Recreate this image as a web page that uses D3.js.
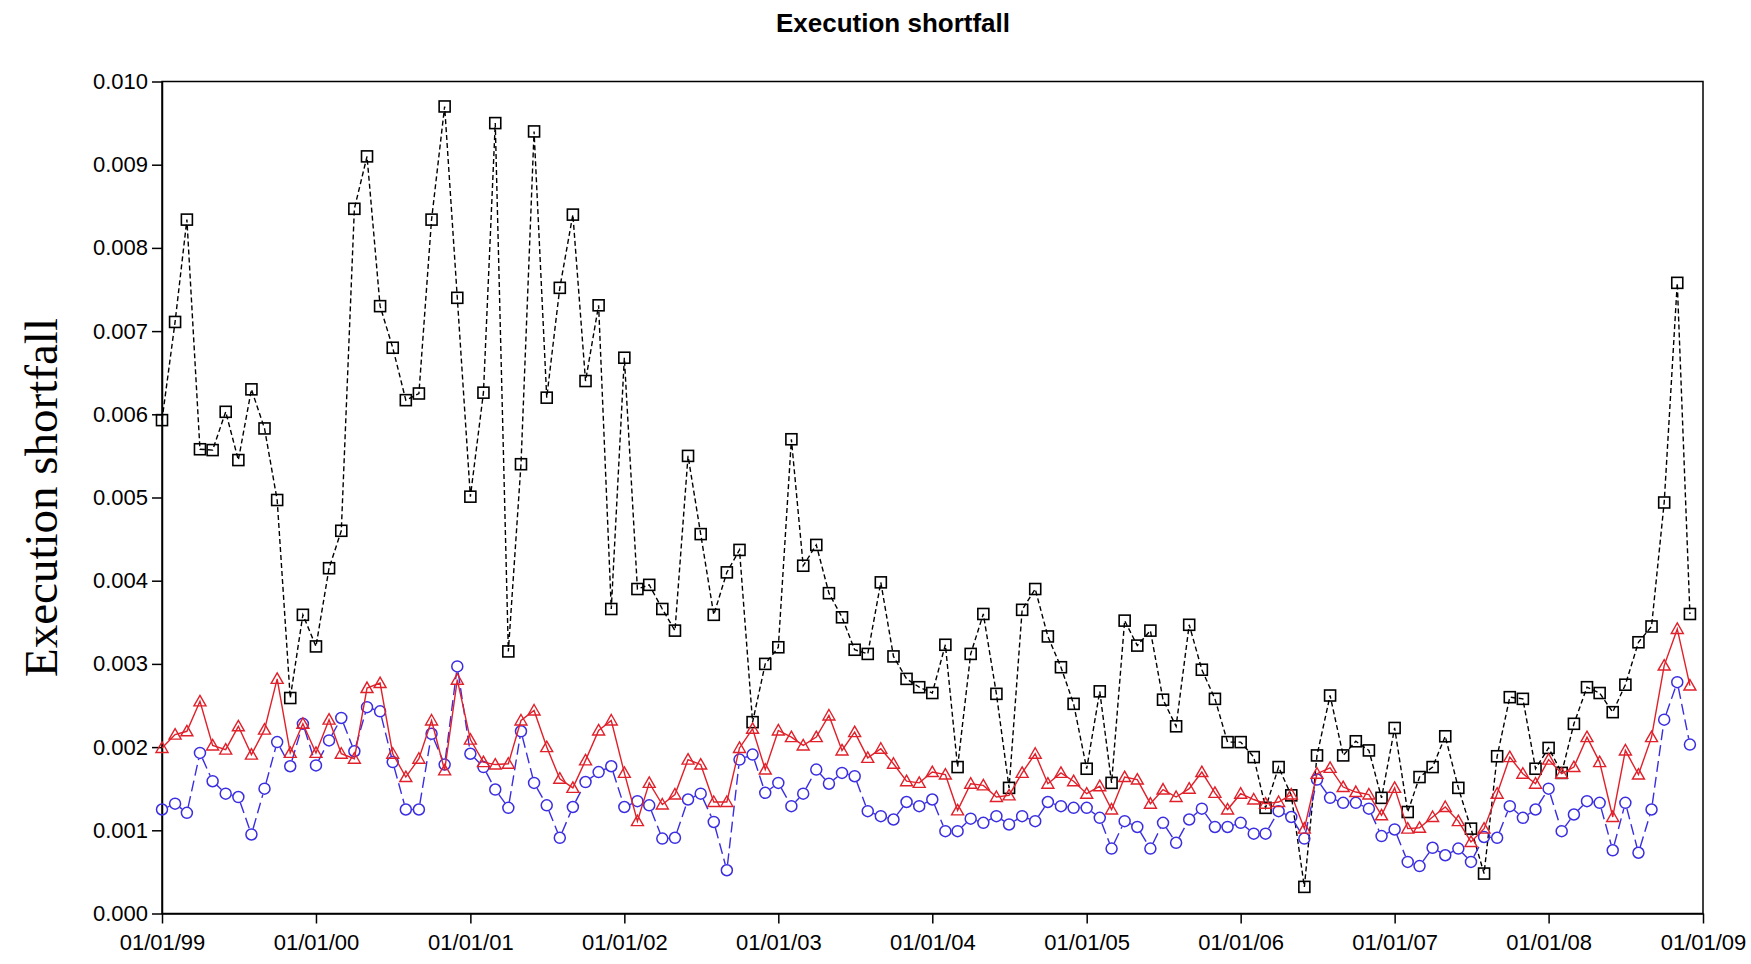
<!DOCTYPE html>
<html lang="en">
<head>
<meta charset="UTF-8">
<title>Execution shortfall</title>
<script src="https://cdn.jsdelivr.net/npm/d3@7"></script>
<style>
  body { margin: 0; background: #fff; }
  svg { display: block; background: #fff; }
  .tick text { font-family: "Liberation Sans", Arial, sans-serif; font-size: 22px; fill: #000; }
</style>
</head>
<body>
<script>
'use strict';

// monthly values, Jan 1999 .. Dec 2008
var blackVals = [
  0.00593, 0.00711, 0.00834, 0.00558, 0.00557, 0.00603, 0.00545, 0.00630, 0.00583, 0.00497, 0.00259, 0.00359,
  0.00321, 0.00415, 0.00460, 0.00847, 0.00910, 0.00730, 0.00680, 0.00617, 0.00625, 0.00834, 0.00970, 0.00740,
  0.00501, 0.00626, 0.00950, 0.00315, 0.00540, 0.00940, 0.00620, 0.00752, 0.00840, 0.00640, 0.00731, 0.00366,
  0.00668, 0.00390, 0.00395, 0.00366, 0.00340, 0.00550, 0.00456, 0.00359, 0.00410, 0.00437, 0.00230, 0.00300,
  0.00320, 0.00570, 0.00418, 0.00443, 0.00385, 0.00356, 0.00317, 0.00312, 0.00398, 0.00309, 0.00282, 0.00272,
  0.00265, 0.00323, 0.00176, 0.00312, 0.00360, 0.00264, 0.00151, 0.00365, 0.00390, 0.00333, 0.00296, 0.00252,
  0.00174, 0.00267, 0.00157, 0.00352, 0.00322, 0.00340, 0.00257, 0.00225, 0.00347, 0.00293, 0.00258, 0.00206,
  0.00206, 0.00188, 0.00127, 0.00176, 0.00142, 0.00032, 0.00190, 0.00262, 0.00190, 0.00207, 0.00196, 0.00139,
  0.00223, 0.00122, 0.00164, 0.00176, 0.00213, 0.00151, 0.00102, 0.00048, 0.00189, 0.00260, 0.00258, 0.00174,
  0.00199, 0.00169, 0.00228, 0.00272, 0.00265, 0.00242, 0.00275, 0.00326, 0.00345, 0.00494, 0.00758, 0.00360
];
var redVals = [
  0.00199, 0.00215, 0.00219, 0.00255, 0.00202, 0.00197, 0.00225, 0.00191, 0.00221, 0.00282, 0.00193, 0.00228,
  0.00193, 0.00233, 0.00192, 0.00186, 0.00271, 0.00277, 0.00192, 0.00164, 0.00186, 0.00232, 0.00172, 0.00281,
  0.00209, 0.00182, 0.00179, 0.00180, 0.00232, 0.00244, 0.00200, 0.00162, 0.00151, 0.00184, 0.00220, 0.00232,
  0.00169, 0.00111, 0.00157, 0.00131, 0.00143, 0.00185, 0.00179, 0.00134, 0.00134, 0.00199, 0.00222, 0.00173,
  0.00220, 0.00212, 0.00202, 0.00212, 0.00238, 0.00196, 0.00218, 0.00187, 0.00198, 0.00180, 0.00159, 0.00157,
  0.00170, 0.00167, 0.00124, 0.00156, 0.00154, 0.00140, 0.00142, 0.00169, 0.00192, 0.00156, 0.00169, 0.00159,
  0.00144, 0.00153, 0.00125, 0.00164, 0.00161, 0.00132, 0.00149, 0.00140, 0.00150, 0.00170, 0.00145, 0.00125,
  0.00144, 0.00137, 0.00132, 0.00134, 0.00143, 0.00102, 0.00168, 0.00175, 0.00152, 0.00146, 0.00143, 0.00118,
  0.00151, 0.00102, 0.00103, 0.00116, 0.00128, 0.00111, 0.00086, 0.00102, 0.00144, 0.00188, 0.00168, 0.00156,
  0.00185, 0.00168, 0.00176, 0.00212, 0.00182, 0.00116, 0.00196, 0.00167, 0.00212, 0.00298, 0.00342, 0.00274
];
var blueVals = [
  0.00125, 0.00132, 0.00121, 0.00193, 0.00159, 0.00144, 0.00140, 0.00095, 0.00150, 0.00206, 0.00177, 0.00228,
  0.00178, 0.00208, 0.00235, 0.00195, 0.00248, 0.00243, 0.00182, 0.00125, 0.00125, 0.00216, 0.00179, 0.00297,
  0.00192, 0.00176, 0.00149, 0.00127, 0.00219, 0.00157, 0.00130, 0.00091, 0.00128, 0.00158, 0.00170, 0.00177,
  0.00128, 0.00135, 0.00130, 0.00090, 0.00091, 0.00137, 0.00144, 0.00110, 0.00052, 0.00185, 0.00191, 0.00145,
  0.00157, 0.00129, 0.00144, 0.00173, 0.00156, 0.00169, 0.00165, 0.00123, 0.00117, 0.00113, 0.00134, 0.00129,
  0.00137, 0.00099, 0.00099, 0.00114, 0.00109, 0.00117, 0.00107, 0.00117, 0.00111, 0.00134, 0.00129, 0.00127,
  0.00127, 0.00115, 0.00078, 0.00111, 0.00104, 0.00078, 0.00109, 0.00085, 0.00113, 0.00126, 0.00104, 0.00104,
  0.00109, 0.00096, 0.00096, 0.00123, 0.00116, 0.00090, 0.00161, 0.00139, 0.00133, 0.00133, 0.00126, 0.00093,
  0.00101, 0.00062, 0.00057, 0.00079, 0.00070, 0.00078, 0.00062, 0.00092, 0.00091, 0.00129, 0.00115, 0.00125,
  0.00150, 0.00099, 0.00119, 0.00135, 0.00133, 0.00076, 0.00133, 0.00073, 0.00125, 0.00233, 0.00278, 0.00203
];
var yTicks = [0, 0.001, 0.002, 0.003, 0.004, 0.005, 0.006, 0.007, 0.008, 0.009, 0.010];
var xTickYears = [1999, 2000, 2001, 2002, 2003, 2004, 2005, 2006, 2007, 2008, 2009];
var title = 'Execution shortfall';
var yTitle = 'Execution shortfall';

var W = 1751, H = 964;
var m = {left: 162, right: 48, top: 81.5, bottom: 50.5};
var iw = W - m.left - m.right, ih = H - m.top - m.bottom;

var svg = d3.select('body').append('svg')
  .attr('width', W)
  .attr('height', H);

var g = svg.append('g').attr('transform', 'translate(' + m.left + ',' + m.top + ')');

var x = d3.scaleUtc()
  .domain([new Date(Date.UTC(1999, 0, 1)), new Date(Date.UTC(2009, 0, 1))])
  .range([0, iw]);
var y = d3.scaleLinear().domain([0, 0.010]).range([ih, 0]);

function toPoints(vals) {
  return vals.map(function(v, i) {
    return {date: new Date(Date.UTC(1999, i, 1)), v: v};
  });
}
var black = toPoints(blackVals), red = toPoints(redVals), blue = toPoints(blueVals);

// axes
var yAxis = d3.axisLeft(y).tickValues(yTicks).tickFormat(d3.format('.3f')).tickSize(10).tickSizeOuter(0).tickPadding(4);
var xAxis = d3.axisBottom(x)
  .tickValues(xTickYears.map(function(yr) { return new Date(Date.UTC(yr, 0, 1)); }))
  .tickFormat(d3.utcFormat('%d/%m/%y'))
  .tickSize(10).tickSizeOuter(0).tickPadding(11);

g.append('g').call(yAxis)
  .call(function(s) { s.selectAll('line, path').attr('stroke', '#000').attr('stroke-width', 1.5); });
g.append('g').attr('transform', 'translate(0,' + ih + ')').call(xAxis)
  .call(function(s) { s.selectAll('line, path').attr('stroke', '#000').attr('stroke-width', 1.5); });

// frame
g.append('rect')
  .attr('x', 0).attr('y', 0).attr('width', iw).attr('height', ih)
  .attr('fill', 'none').attr('stroke', '#000').attr('stroke-width', 1.5);

var line = d3.line()
  .x(function(d) { return x(d.date); })
  .y(function(d) { return y(d.v); });

// black: short dashes, squares
g.append('path').datum(black)
  .attr('d', line)
  .attr('fill', 'none').attr('stroke', '#000').attr('stroke-width', 1.4)
  .attr('stroke-dasharray', '5,3');
g.selectAll('.sq').data(black).enter().append('rect')
  .attr('class', 'sq')
  .attr('x', function(d) { return x(d.date) - 5.5; })
  .attr('y', function(d) { return y(d.v) - 5.5; })
  .attr('width', 11).attr('height', 11)
  .attr('fill', 'none').attr('stroke', '#000').attr('stroke-width', 1.6);

// blue: long dashes with gaps at the points, circles
var blueCol = '#3a2ee0';
var segs = d3.pairs(blue);
g.selectAll('.bseg').data(segs).enter().append('line')
  .attr('class', 'bseg')
  .each(function(p) {
    var x1 = x(p[0].date), y1 = y(p[0].v), x2 = x(p[1].date), y2 = y(p[1].v);
    var dx = x2 - x1, dy = y2 - y1, len = Math.sqrt(dx * dx + dy * dy), k = len > 12 ? 6 / len : 0.4;
    d3.select(this)
      .attr('x1', x1 + dx * k).attr('y1', y1 + dy * k)
      .attr('x2', x2 - dx * k).attr('y2', y2 - dy * k);
  })
  .attr('stroke', blueCol).attr('stroke-width', 1.4)
  .attr('stroke-dasharray', '11,5');
g.selectAll('.ci').data(blue).enter().append('circle')
  .attr('class', 'ci')
  .attr('cx', function(d) { return x(d.date); })
  .attr('cy', function(d) { return y(d.v); })
  .attr('r', 5.5)
  .attr('fill', 'none').attr('stroke', blueCol).attr('stroke-width', 1.5);

// red: solid, triangles
var redCol = '#e0202a';
g.append('path').datum(red)
  .attr('d', line)
  .attr('fill', 'none').attr('stroke', redCol).attr('stroke-width', 1.4);
g.selectAll('.tri').data(red).enter().append('path')
  .attr('class', 'tri')
  .attr('transform', function(d) { return 'translate(' + x(d.date) + ',' + y(d.v) + ')'; })
  .attr('d', 'M0,-6L6,4.5L-6,4.5Z')
  .attr('fill', 'none').attr('stroke', redCol).attr('stroke-width', 1.4);

// titles
svg.append('text')
  .attr('x', 893).attr('y', 32)
  .attr('text-anchor', 'middle')
  .attr('font-family', '"Liberation Sans", Arial, sans-serif')
  .attr('font-weight', 'bold')
  .attr('font-size', 26)
  .text(title);

svg.append('text')
  .attr('transform', 'translate(57,' + (m.top + ih / 2) + ') rotate(-90)')
  .attr('text-anchor', 'middle')
  .attr('font-family', '"Liberation Serif", "Times New Roman", serif')
  .attr('font-size', 47)
  .text(yTitle);
</script>
</body>
</html>
